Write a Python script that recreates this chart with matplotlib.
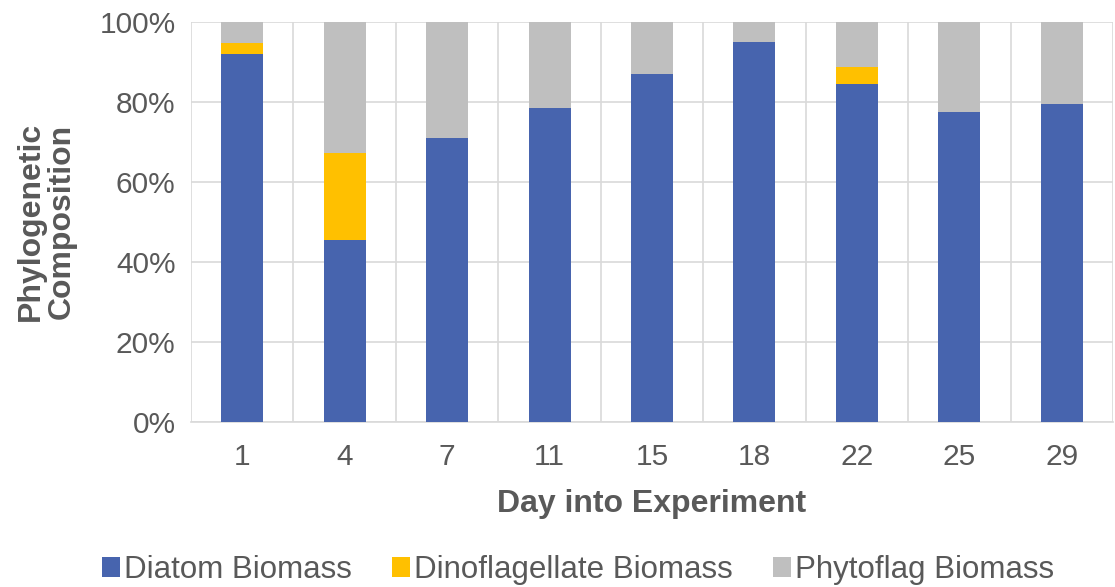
import matplotlib
matplotlib.use("Agg")
import matplotlib.pyplot as plt
import numpy as np
from matplotlib.ticker import PercentFormatter, FixedLocator

plt.rcParams['font.family'] = ['Liberation Sans', 'DejaVu Sans']

days = ["1", "4", "7", "11", "15", "18", "22", "25", "29"]
diatom = [92.0, 45.5, 71.1, 78.6, 87.0, 95.1, 84.5, 77.4, 79.5]
dino = [2.8, 21.8, 0.0, 0.0, 0.0, 0.0, 4.3, 0.0, 0.0]
phyto = [round(100 - a - b, 1) for a, b in zip(diatom, dino)]

c_diatom = "#4764AE"
c_dino = "#FFC000"
c_phyto = "#BFBFBF"
txt = "#595959"
grid_c = "#D9D9D9"

W, H = 1115, 587
fig = plt.figure(figsize=(W/100, H/100), dpi=100)
ax = fig.add_axes([191/W, 1-422/H, (1113-191)/W, 400/H])

x = np.arange(len(days))
w = 0.41
d = np.array(diatom); n = np.array(dino); p = np.array(phyto)
ax.bar(x, d, w, color=c_diatom, label="Diatom Biomass", zorder=3)
ax.bar(x, n, w, bottom=d, color=c_dino, label="Dinoflagellate Biomass", zorder=3)
ax.bar(x, p, w, bottom=d+n, color=c_phyto, label="Phytoflag Biomass", zorder=3)

ax.set_xlim(-0.5, len(days)-0.5)
ax.set_ylim(0, 100)
ax.set_yticks(np.arange(0, 101, 20))
ax.yaxis.set_major_formatter(PercentFormatter(decimals=0))
ax.set_xticks(x)
ax.set_xticklabels(days)
ax.xaxis.set_minor_locator(FixedLocator(np.arange(-0.5, len(days), 1.0)))
ax.grid(axis='y', which='major', color=grid_c, lw=1.2, zorder=0)
ax.grid(axis='x', which='minor', color=grid_c, lw=1.2, zorder=0)
for s in ['top', 'right', 'left']:
    ax.spines[s].set_visible(False)
ax.spines['bottom'].set_color(grid_c)
ax.spines['bottom'].set_linewidth(1.2)
ax.tick_params(axis='both', which='both', length=0, labelsize=21.5, labelcolor=txt)
ax.tick_params(axis='x', pad=15)
ax.tick_params(axis='y', pad=11)

fig.text(652/W, 1-512/H, "Day into Experiment", ha='center', va='baseline',
         fontsize=23, fontweight='bold', color=txt)
fig.text(46/W, 1-221/H, "Phylogenetic\nComposition", rotation=90, ha='center', va='center',
         fontsize=23, fontweight='bold', color=txt, linespacing=1.05)

fig.legend(loc='center', bbox_to_anchor=(578/W, 1-570/H), ncol=3, frameon=False,
           fontsize=22.5, handlelength=0.57, handleheight=0.57, handletextpad=0.12,
           columnspacing=1.3, labelcolor=txt, borderpad=0)

fig.savefig("out.png", dpi=100)
